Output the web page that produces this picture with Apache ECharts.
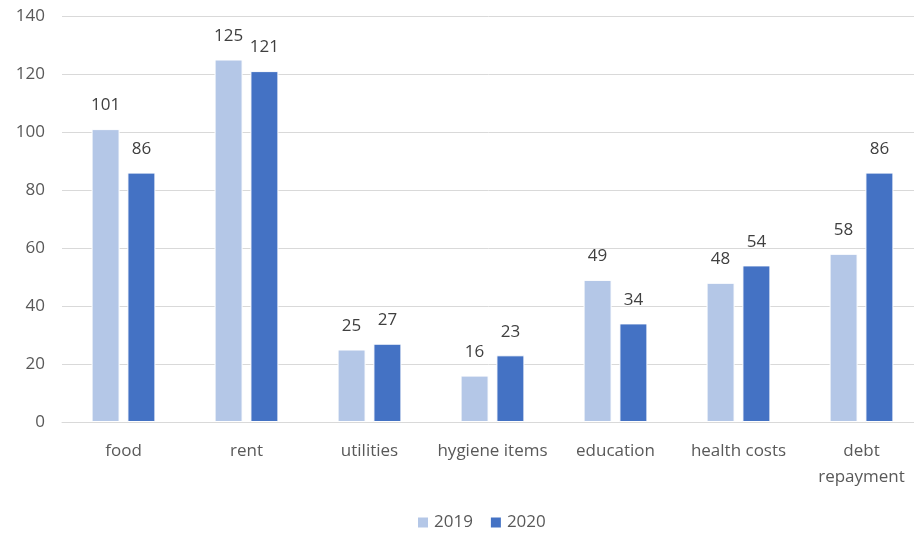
<!DOCTYPE html>
<html>
<head>
<meta charset="utf-8">
<script src="https://cdn.jsdelivr.net/npm/echarts@6/dist/echarts.min.js"></script>
<style>
html,body{margin:0;padding:0;background:#fff;}
#chart{width:914px;height:538px;}
</style>
</head>
<body>
<div id="chart"></div>
<script>
// Spending categories and values per year
const categories = ['food', 'rent', 'utilities', 'hygiene items', 'education', 'health costs', 'debt\nrepayment'];
const values2019 = [101, 125, 25, 16, 49, 48, 58];
const values2020 = [86, 121, 27, 23, 34, 54, 86];
const yTicks = { min: 0, max: 140, interval: 20 };

const FONT = '"Open Sans", "Liberation Sans", sans-serif';
const TXT = '#595959';

const labelStyle = {
  show: true,
  position: 'top',
  distance: 15,
  color: '#404040',
  fontSize: 17,
  fontFamily: FONT
};

const chart = echarts.init(document.getElementById('chart'));
chart.setOption({
  animation: false,
  textStyle: { fontFamily: FONT },
  // plot area runs slightly past the right edge of the canvas
  grid: { left: 62, width: 861, top: 16, height: 406, containLabel: false, outerBoundsMode: 'none' },
  legend: {
    bottom: 2,
    left: 411,
    itemWidth: 12,
    itemHeight: 12,
    itemGap: 16,
    icon: 'rect',
    textStyle: { color: TXT, fontSize: 17, fontFamily: FONT }
  },
  xAxis: {
    type: 'category',
    data: categories,
    axisTick: { show: false },
    axisLine: { lineStyle: { color: '#d9d9d9', width: 1 } },
    axisLabel: { interval: 0, color: TXT, fontSize: 17, fontFamily: FONT, margin: 16, lineHeight: 26 }
  },
  yAxis: {
    type: 'value',
    min: yTicks.min,
    max: yTicks.max,
    interval: yTicks.interval,
    axisLine: { show: false },
    axisTick: { show: false },
    splitLine: { lineStyle: { color: '#d9d9d9', width: 1 } },
    axisLabel: { color: TXT, fontSize: 17, fontFamily: FONT, margin: 17 }
  },
  series: [
    {
      name: '2019',
      type: 'bar',
      data: values2019,
      barWidth: 28,
      barGap: '28%',
      itemStyle: { color: '#b4c7e7', borderColor: '#fff', borderWidth: 1 },
      label: labelStyle
    },
    {
      name: '2020',
      type: 'bar',
      data: values2020,
      barWidth: 28,
      itemStyle: { color: '#4472c4', borderColor: '#fff', borderWidth: 1 },
      label: labelStyle
    }
  ]
});
</script>
</body>
</html>
